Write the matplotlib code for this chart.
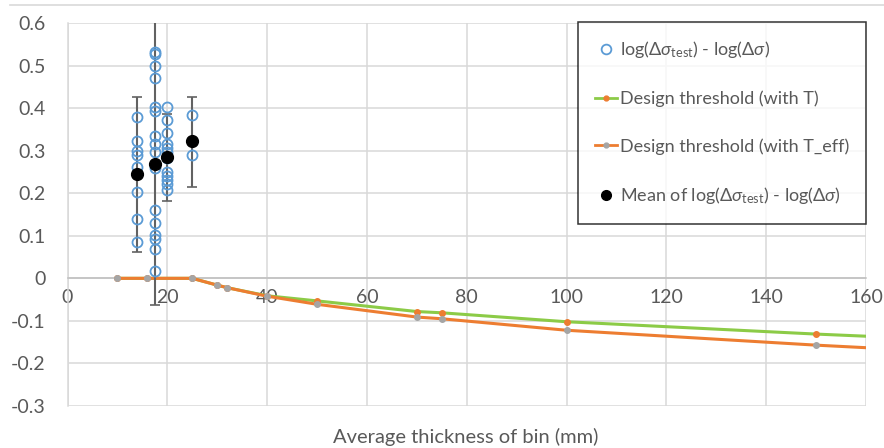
import matplotlib
matplotlib.use("Agg")
import matplotlib.pyplot as plt
from matplotlib.lines import Line2D

plt.rcParams['font.family'] = ['Lato', 'DejaVu Sans']
plt.rcParams['mathtext.fontset'] = 'custom'
plt.rcParams['mathtext.rm'] = 'Lato'
plt.rcParams['mathtext.it'] = 'Lato:italic'

# individual test results, grouped by bin thickness (mm)
bin_14 = [0.378, 0.323, 0.300, 0.289, 0.261, 0.202, 0.140, 0.085]
bin_17_5 = [0.532, 0.527, 0.498, 0.471, 0.402, 0.394, 0.334, 0.315,
            0.298, 0.259, 0.161, 0.129, 0.102, 0.093, 0.069, 0.017]
bin_20 = [0.402, 0.371, 0.341, 0.315, 0.306, 0.298, 0.282, 0.251,
          0.241, 0.231, 0.221, 0.208]
bin_25 = [0.384, 0.290]
test_bins = {14: bin_14, 17.5: bin_17_5, 20: bin_20, 25: bin_25}

# bin means with error bars
mean_thickness = [14, 17.5, 20, 25]
mean_values = [0.245, 0.268, 0.286, 0.322]
mean_err_low = [0.182, 0.330, 0.104, 0.108]
mean_err_high = [0.181, 0.340, 0.100, 0.104]

# design thresholds
thr_thickness = [10, 16, 25, 30, 32, 40, 50, 70, 75, 100, 150, 160]
thr_with_t = [0, 0, 0, -0.016, -0.022, -0.041, -0.053, -0.078, -0.081,
              -0.102, -0.131, -0.136]
thr_with_teff = [0, 0, 0, -0.016, -0.022, -0.042, -0.061, -0.091, -0.095,
                 -0.122, -0.157, -0.163]

blue = '#5B9BD5'
green = '#8CCB47'
orange = '#ED7D31'
gray = '#A5A5A5'
text_gray = '#595959'
grid_gray = '#D9D9D9'

fig = plt.figure(figsize=(8.84, 4.48), dpi=100)
ax = fig.add_axes([67.5 / 884, 42 / 448, (866 - 67.5) / 884, (405.5 - 22.5) / 448])

# threshold curves
n_marks = list(range(len(thr_thickness) - 1))
ax.plot(thr_thickness, thr_with_t, '-', color=green, lw=2.2,
        marker='o', ms=4, mfc=orange, mec=orange, markevery=n_marks, zorder=3)
ax.plot(thr_thickness, thr_with_teff, '-', color=orange, lw=2.2,
        marker='o', ms=4, mfc=gray, mec=gray, markevery=n_marks, zorder=4)

# error bars and bin means
ax.errorbar(mean_thickness, mean_values, yerr=[mean_err_low, mean_err_high],
            fmt='none', ecolor='#626262', elinewidth=1.5, capsize=3.5,
            capthick=1.2, zorder=5)

for thick, vals in test_bins.items():
    ax.plot([thick] * len(vals), vals, 'o', ms=7.2, mfc='none', mec=blue,
            mew=1.3, zorder=6)

ax.plot(mean_thickness, mean_values, 'o', ms=8.5, color='black', zorder=7)

ax.set_xlim(0, 160)
ax.set_ylim(-0.3, 0.6)
ax.set_xticks(range(0, 161, 20))
ax.set_yticks([-0.3, -0.2, -0.1, 0, 0.1, 0.2, 0.3, 0.4, 0.5, 0.6])
ax.set_yticklabels(['-0.3', '-0.2', '-0.1', '0', '0.1', '0.2', '0.3',
                    '0.4', '0.5', '0.6'])
ax.grid(True, color=grid_gray, lw=1.1)
ax.set_axisbelow(True)

for side in ('top', 'right'):
    ax.spines[side].set_visible(False)
ax.spines['left'].set_color(grid_gray)
ax.spines['left'].set_linewidth(1.1)
ax.spines['bottom'].set_position(('data', 0))
ax.spines['bottom'].set_color('#BFBFBF')
ax.spines['bottom'].set_linewidth(1.1)
ax.tick_params(axis='both', length=0, labelsize=14, labelcolor=text_gray)
ax.tick_params(axis='x', pad=8)
ax.tick_params(axis='y', pad=16)

fig.text((330 + 602) / 2 / 884, 1 - 437 / 448, 'Average thickness of bin (mm)',
         ha='center', va='center', fontsize=14.5, color=text_gray)

# chart area border at the very top
fig.add_artist(Line2D([10 / 884, 1], [1 - 5 / 448] * 2, color=grid_gray, lw=1.2))

handles = [
    Line2D([], [], ls='none', marker='o', ms=7, mfc='none', mec=blue, mew=1.3),
    Line2D([], [], color=green, lw=2, marker='o', ms=3.5, mfc=orange, mec=orange),
    Line2D([], [], color=orange, lw=2, marker='o', ms=3.5, mfc=gray, mec=gray),
    Line2D([], [], ls='none', marker='o', ms=7, color='black'),
]
labels = [
    r'log($\Delta\sigma_{\mathrm{test}}$) - log($\Delta\sigma$)',
    'Design threshold (with T)',
    'Design threshold (with T_eff)',
    r'Mean of log($\Delta\sigma_{\mathrm{test}}$) - log($\Delta\sigma$)',
]
leg = ax.legend(handles, labels, loc='upper right',
                bbox_to_anchor=(866 / 884, 1 - 22 / 448),
                bbox_transform=fig.transFigure, frameon=True, fancybox=False,
                fontsize=13, labelspacing=1.7, handlelength=1.2,
                handletextpad=0.15, borderpad=0.95, borderaxespad=0)
leg.get_frame().set_edgecolor('black')
leg.get_frame().set_linewidth(1.1)
for t in leg.get_texts():
    t.set_color(text_gray)
leg.set_zorder(10)

fig.savefig('out.png', dpi=100)
